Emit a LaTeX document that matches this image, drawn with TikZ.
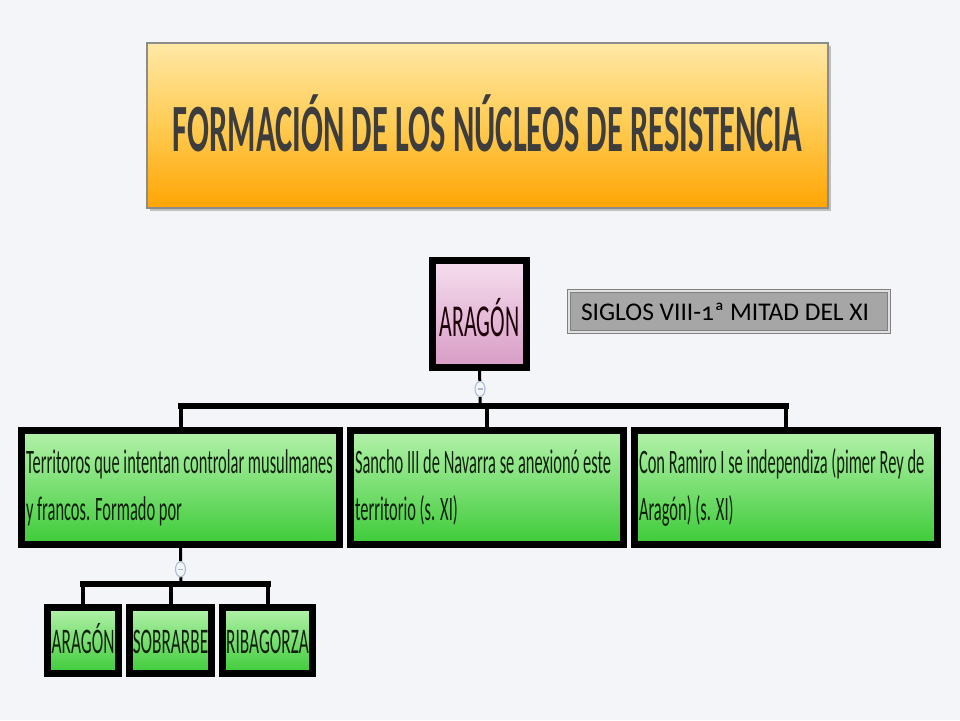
\documentclass[tikz,border=0pt]{standalone}
\usepackage{fontspec}
\setmainfont{Carlito}
\newfontfamily\narrowfont[FakeStretch=0.48]{Carlito}
\newfontfamily\headfont[FakeStretch=0.48]{Carlito}
\newfontfamily\plainfont[Numbers=OldStyle]{Carlito}
\usetikzlibrary{positioning,shapes.geometric}

\definecolor{bgcol}{HTML}{F3F5F8}
\definecolor{ortop}{HTML}{FFE8A6}
\definecolor{ormid}{HTML}{FFCB52}
\definecolor{orbot}{HTML}{FFA504}
\definecolor{pktop}{HTML}{F5DEEE}
\definecolor{pkbot}{HTML}{D89CC5}
\definecolor{grtop}{HTML}{B4F2AB}
\definecolor{grbot}{HTML}{3DCB38}
\definecolor{txtgreen}{HTML}{10200C}
\definecolor{knotcol}{HTML}{A9BAD4}

\tikzset{
  box/.style={draw=black, line width=0.13cm, inner sep=0pt},
  greenbox/.style={box, top color=grtop, bottom color=grbot, align=flush left, text=txtgreen,
    inner xsep=0.09cm, minimum height=2.28cm,
    font=\narrowfont\fontsize{19.5}{26.6}\selectfont},
  leafbox/.style={box, top color=grtop, bottom color=grbot, text=txtgreen,
    minimum height=1.32cm, text height=0.52cm, text depth=0pt,
    font=\narrowfont\fontsize{20.5}{24}\selectfont},
  knot/.style={ellipse, draw=knotcol, fill=bgcol, line width=0.6pt, minimum width=0.2cm,
    minimum height=0.3cm, inner sep=0pt,
    path picture={\draw[knotcol, line width=0.6pt]
      ([xshift=-0.05cm]path picture bounding box.center) -- ([xshift=0.05cm]path picture bounding box.center);}},
  trunk/.style={line width=0.06cm},
  bus/.style={line width=0.12cm, line cap=rect},
  drop/.style={line width=0.08cm},
}

\begin{document}
\begin{tikzpicture}[x=0.02cm, y=-0.02cm]
  \fill[bgcol] (0,0) rectangle (960,720);
  % \draw[help lines] (0,0) grid[step=50] (960,720);

  \fill[black!25] (150,46) rectangle (831,211);
  \node[draw=black!45, line width=0.8pt, top color=ortop, bottom color=orbot, middle color=ormid,
    minimum width=13.62cm, minimum height=3.30cm, text height=1.06cm, text depth=0pt,
    text=black!76, font=\headfont\bfseries\fontsize{38.5}{40}\selectfont]
    (title) at (487.5,125.5) {FORMACIÓN DE LOS NÚCLEOS DE RESISTENCIA};

  \node[box, top color=pktop, bottom color=pkbot, minimum width=1.88cm, minimum height=2.14cm,
    text height=0.88cm, text depth=0pt, text=black!85!purple,
    font=\headfont\fontsize{26}{28}\selectfont] (aragon) at (479.5,314) {ARAGÓN};

  \node[draw=black!50, line width=0.7pt, double=black!12, double distance=0.7pt, fill=black!35,
    text width=5.92cm, inner xsep=0.24cm, minimum height=0.82cm, align=flush left,
    font=\plainfont\fontsize{14.5}{16}\selectfont] (siglos) at (729,311.5) {SIGLOS VIII-1ª MITAD DEL XI};

  \node[knot] (knotA) at (480,389) {};
  \coordinate (busA) at (480,406);

  \node[greenbox, minimum width=6.36cm, text width=6.18cm] (terr) at (180.5,487.5)
    {Territoros que intentan controlar musulmanes\\y francos. Formado por};
  \node[greenbox, minimum width=5.46cm, text width=5.28cm] (sancho) at (487,487.5)
    {Sancho III de Navarra se anexionó este\\territorio (s. XI)};
  \node[greenbox, minimum width=6.06cm, text width=5.88cm] (ramiro) at (786,487.5)
    {Con Ramiro I se independiza (pimer Rey de\\Aragón) (s. XI)};

  \draw[trunk] (aragon.south) -- (knotA) -- (busA);
  \draw[bus] (terr.north |- busA) -- (ramiro.north |- busA);
  \foreach \n in {terr,sancho,ramiro}
    \draw[drop] (\n.north) -- (\n.north |- busA);

  \node[knot, below=0.27cm of terr] (knotB) {};
  \coordinate (busB) at (181,583.5);

  \node[leafbox, minimum width=1.42cm] (aragonB) at (83,640.5) {ARAGÓN};
  \node[leafbox, minimum width=1.64cm] (sobrarbe) at (170.5,640.5) {SOBRARBE};
  \node[leafbox, minimum width=1.80cm] (ribagorza) at (267.5,640.5) {RIBAGORZA};

  \draw[trunk] (terr.south) -- (knotB) -- (busB);
  \draw[bus] (aragonB.north |- busB) -- (ribagorza.north |- busB);
  \foreach \n in {aragonB,sobrarbe,ribagorza}
    \draw[drop] (\n.north) -- (\n.north |- busB);
\end{tikzpicture}
\end{document}
